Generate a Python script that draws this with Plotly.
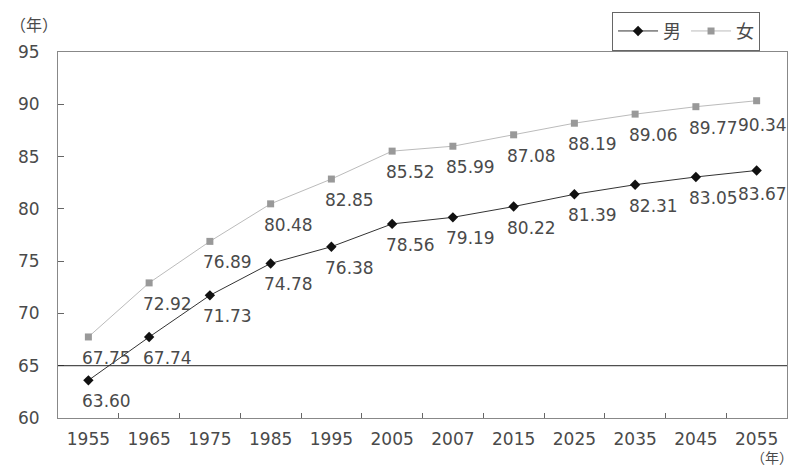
import plotly.graph_objects as go

years = ["1955", "1965", "1975", "1985", "1995", "2005", "2007", "2015", "2025", "2035", "2045", "2055"]
male = [63.60, 67.74, 71.73, 74.78, 76.38, 78.56, 79.19, 80.22, 81.39, 82.31, 83.05, 83.67]
female = [67.75, 72.92, 76.89, 80.48, 82.85, 85.52, 85.99, 87.08, 88.19, 89.06, 89.77, 90.34]
y_ticks = [60, 65, 70, 75, 80, 85, 90, 95]

FONT = "DejaVu Sans, Noto Sans CJK JP"
TXT = "#4a4a4a"

fig = go.Figure()
fig.add_trace(go.Scatter(
    x=years, y=male, name="男", mode="lines+markers",
    line=dict(color="#333333", width=1),
    marker=dict(symbol="diamond", size=8, color="#111111"),
))
fig.add_trace(go.Scatter(
    x=years, y=female, name="女", mode="lines+markers",
    line=dict(color="#bbbbbb", width=1),
    marker=dict(symbol="square", size=7, color="#999999"),
))

n = len(years)
for series in (male, female):
    for i, v in enumerate(series):
        last = i == n - 1
        fig.add_annotation(
            x=i, y=v, xref="x", yref="y", text=f"{v:.2f}", showarrow=False,
            xshift=6 if last else 18, yshift=-24 if last else -21,
            font=dict(size=17, color=TXT, family=FONT),
        )

fig.add_annotation(x=0, y=1, xref="paper", yref="paper", xshift=-50, yshift=38,
                   text="（年）", showarrow=False, xanchor="left",
                   font=dict(size=16, color=TXT, family=FONT))
fig.add_annotation(x=1, y=0, xref="paper", yref="paper", xshift=8, yshift=-40,
                   text="（年）", showarrow=False, xanchor="right", yanchor="middle",
                   font=dict(size=14, color=TXT, family=FONT))

fig.add_shape(type="line", xref="paper", yref="y", x0=0, x1=1, y0=65, y1=65,
              line=dict(color="#222222", width=1))

fig.update_layout(
    width=795, height=467,
    margin=dict(l=58, r=8, t=52, b=49, autoexpand=False),
    paper_bgcolor="white", plot_bgcolor="white",
    font=dict(family=FONT, size=17, color=TXT),
    showlegend=True,
    legend=dict(orientation="h", x=0.76, y=1.11, xanchor="left", yanchor="top",
                bordercolor="#666666", borderwidth=1, bgcolor="white",
                font=dict(size=18, color=TXT), itemwidth=40),
    xaxis=dict(type="category", categoryorder="array", categoryarray=years,
               range=[-0.5, n - 0.5], autorange=False,
               showgrid=False, showline=True, linecolor="#888888",
               mirror=True, ticks="inside", ticklen=5, tickcolor="#666666",
               tickson="boundaries", tickangle=0, ticklabelstandoff=6,
               tickfont=dict(size=17, color=TXT)),
    yaxis=dict(range=[60, 95], autorange=False, tickvals=y_ticks, showgrid=False, zeroline=False,
               showline=True, linecolor="#888888", mirror=True, ticks="inside",
               ticklen=6, tickcolor="#666666", tickfont=dict(size=17, color=TXT),
               ticklabelstandoff=14),
)

fig.write_html("out.html")
